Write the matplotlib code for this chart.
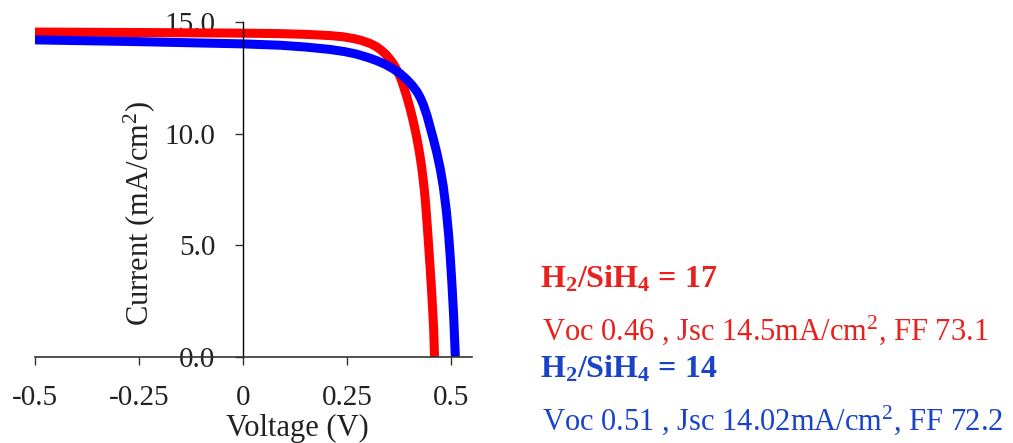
import matplotlib
matplotlib.use("Agg")
import matplotlib.pyplot as plt

plt.rcParams['font.family'] = ['Liberation Serif', 'DejaVu Serif']
plt.rcParams['mathtext.fontset'] = 'custom'
plt.rcParams['mathtext.rm'] = 'Liberation Serif'
plt.rcParams['mathtext.bf'] = 'Liberation Serif:bold'
plt.rcParams['mathtext.default'] = 'regular'

# J-V curves (voltage in V, current density in mA/cm^2)
v_17 = [-0.5, -0.25, 0.0, 0.09, 0.16, 0.21, 0.24, 0.265, 0.285, 0.305, 0.32,
        0.333, 0.344, 0.353, 0.362, 0.369, 0.376, 0.381, 0.387, 0.393, 0.400,
        0.406, 0.411, 0.416, 0.421, 0.425, 0.429, 0.433, 0.438, 0.443, 0.448,
        0.452, 0.456, 0.458, 0.46]
j_17 = [14.55, 14.53, 14.5, 14.48, 14.44, 14.39, 14.34, 14.26, 14.17, 14.04, 13.9,
        13.72, 13.53, 13.33, 13.1, 12.87, 12.6, 12.36, 12.03, 11.68, 11.22,
        10.78, 10.37, 9.94, 9.45, 9.0, 8.5, 7.9, 7.0, 5.75, 4.4,
        3.25, 1.95, 1.2, 0.0]

v_14 = [-0.5, -0.25, 0.0, 0.089, 0.15, 0.209, 0.245, 0.273, 0.30, 0.321, 0.342,
        0.361, 0.378, 0.393, 0.406, 0.418, 0.426, 0.433, 0.442, 0.450, 0.458,
        0.466, 0.474, 0.481, 0.488, 0.494, 0.498, 0.502, 0.506, 0.51]
j_14 = [14.2, 14.12, 14.02, 13.96, 13.88, 13.77, 13.67, 13.56, 13.41, 13.27, 13.1,
        12.9, 12.68, 12.43, 12.17, 11.87, 11.6, 11.3, 10.8, 10.25, 9.7,
        9.1, 8.4, 7.63, 6.6, 5.45, 4.4, 3.2, 1.8, 0.0]

x_ticks = [-0.5, -0.25, 0, 0.25, 0.5]
x_tick_labels = ['-0.5', '-0.25', '0', '0.25', '0.5']
y_ticks = [0, 5, 10, 15]
y_tick_labels = ['0.0', '5.0', '10.0', '15.0']

red = '#ff0000'
blue = '#0000ff'
red_text = '#e8201e'
blue_text = '#1a44c8'

W, H = 1013, 443
fig = plt.figure(figsize=(W / 100, H / 100), dpi=100)
ax = fig.add_axes([35 / W, 1 - 357 / H, 437 / W, 335 / H])

ax.plot(v_17, j_17, color=red, lw=6.5, solid_capstyle='butt', solid_joinstyle='round')
ax.plot(v_14, j_14, color=blue, lw=6.5, solid_capstyle='butt', solid_joinstyle='round')

ax.set_xlim(-0.5, 0.55)
ax.set_ylim(0, 15)

for s in ('top', 'right'):
    ax.spines[s].set_visible(False)
ax.spines['left'].set_position(('data', 0))
ax.spines['left'].set_color('black')
ax.spines['bottom'].set_color('#333333')
ax.spines['left'].set_linewidth(1.0)
ax.spines['bottom'].set_linewidth(1.2)

ax.set_xticks(x_ticks)
ax.set_xticklabels(x_tick_labels)
ax.set_yticks(y_ticks)
ax.set_yticklabels(y_tick_labels)
ax.tick_params(axis='both', direction='out', length=6, width=1.0,
               color='#333333', labelsize=21, labelcolor='#222222')
ax.tick_params(axis='y', pad=14)
ax.tick_params(axis='x', pad=14)

ax.text(0.13, -0.212, 'Voltage (V)', transform=ax.get_xaxis_transform(),
        ha='center', va='center', fontsize=22, color='#222222')
fig.text(139 / W, 1 - 214 / H, 'Current (mA/cm$^2$)', rotation=90,
         ha='center', va='center', fontsize=22, color='#222222')

# cell parameters
fig.text(540 / W, 1 - 287 / H, 'H$_2$/SiH$_4$ = 17', color=red_text,
         fontsize=23, fontweight='bold', va='baseline')
fig.text(542 / W, 1 - 340 / H, 'Voc 0.46 , Jsc 14.5mA/cm$^2$, FF 73.1',
         color=red_text, fontsize=22, va='baseline')
fig.text(540 / W, 1 - 377 / H, 'H$_2$/SiH$_4$ = 14', color=blue_text,
         fontsize=23, fontweight='bold', va='baseline')
fig.text(542 / W, 1 - 430 / H, 'Voc 0.51 , Jsc 14.02mA/cm$^2$, FF 72.2',
         color=blue_text, fontsize=22, va='baseline')

fig.savefig('out.png', dpi=100)
